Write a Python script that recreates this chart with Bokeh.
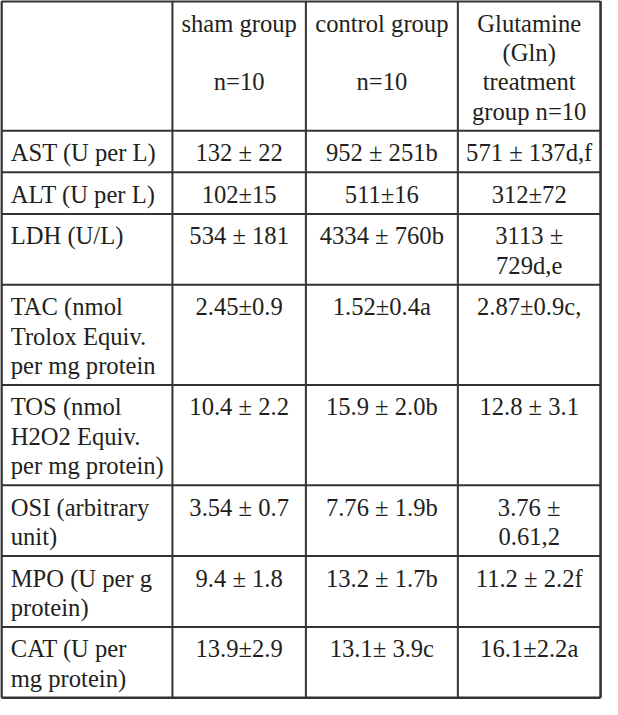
from bokeh.plotting import figure
from bokeh.models import Range1d, ColumnDataSource
from bokeh.core.properties import value
from bokeh.embed import file_html
from bokeh.resources import INLINE

# ---- table content ----
header = ["", "sham group\n\nn=10", "control group\n\nn=10", "Glutamine\n(Gln)\ntreatment\ngroup n=10"]
row_labels = ["AST (U per L)", "ALT (U per L)", "LDH (U/L)",
              "TAC (nmol\nTrolox Equiv.\nper mg protein",
              "TOS (nmol\nH2O2 Equiv.\nper mg protein)",
              "OSI (arbitrary\nunit)", "MPO (U per g\nprotein)", "CAT (U per\nmg protein)"]
sham = ["132 ± 22", "102±15", "534 ± 181", "2.45±0.9", "10.4 ± 2.2", "3.54 ± 0.7", "9.4 ± 1.8", "13.9±2.9"]
control = ["952 ± 251b", "511±16", "4334 ± 760b", "1.52±0.4a", "15.9 ± 2.0b", "7.76 ± 1.9b", "13.2 ± 1.7b", "13.1± 3.9c"]
gln = ["571 ± 137d,f", "312±72", "3113 ±\n729d,e", "2.87±0.9c,", "12.8 ± 3.1", "3.76 ±\n0.61,2", "11.2 ± 2.2f", "16.1±2.2a"]

# ---- layout (reference pixel space) ----
col_edges = [1.0, 176.5, 313.5, 469.5, 616.0]
top = 0.8
pad = 12.5
line_h = 30.0
mid_off = 22.5
left_pad = 9.5

rows = [header] + [[row_labels[i], sham[i], control[i], gln[i]] for i in range(len(row_labels))]

row_edges = [top]
for r in rows:
    n = max(len(c.split("\n")) for c in r)
    row_edges.append(row_edges[-1] + pad + line_h * n)

W, H = 602, 699
p = figure(width=W, height=H, x_range=Range1d(0, 618), y_range=Range1d(715, 0),
           output_backend="svg", toolbar_location=None, min_border=0)
p.axis.visible = False
p.grid.visible = False
p.outline_line_color = None
p.background_fill_color = "white"
p.border_fill_color = "white"

lx, ly, lt = [], [], []
cx, cy, ct = [], [], []
for ri, r in enumerate(rows):
    y0 = row_edges[ri]
    for ci, cell in enumerate(r):
        for li, line in enumerate(cell.split("\n")):
            if not line:
                continue
            yy = y0 + mid_off + li * line_h
            if ci == 0:
                lx.append(col_edges[0] + left_pad); ly.append(yy); lt.append(line)
            else:
                cx.append((col_edges[ci] + col_edges[ci + 1]) / 2); cy.append(yy); ct.append(line)

fs = value("24.6px")
font = value("Liberation Serif")
p.text(x="x", y="y", text="t", source=ColumnDataSource(dict(x=lx, y=ly, t=lt)),
       text_font=font, text_font_size=fs, text_align="left", text_baseline="middle",
       text_color="#231f20")
p.text(x="x", y="y", text="t", source=ColumnDataSource(dict(x=cx, y=cy, t=ct)),
       text_font=font, text_font_size=fs, text_align="center", text_baseline="middle",
       text_color="#231f20")

# grid lines
x0s, y0s, x1s, y1s, ws = [], [], [], [], []
for i, y in enumerate(row_edges):
    x0s.append(col_edges[0]); x1s.append(col_edges[-1]); y0s.append(y); y1s.append(y)
    ws.append(2.6 if i in (0, len(row_edges) - 1) else 2.0)
for i, x in enumerate(col_edges):
    x0s.append(x); x1s.append(x); y0s.append(row_edges[0]); y1s.append(row_edges[-1])
    ws.append(2.6 if i in (0, len(col_edges) - 1) else 2.0)
p.segment(x0="x0", y0="y0", x1="x1", y1="y1", line_width="w", line_color="#333333",
          source=ColumnDataSource(dict(x0=x0s, y0=y0s, x1=x1s, y1=y1s, w=ws)))

open("out.html", "w").write(file_html(p, INLINE))
